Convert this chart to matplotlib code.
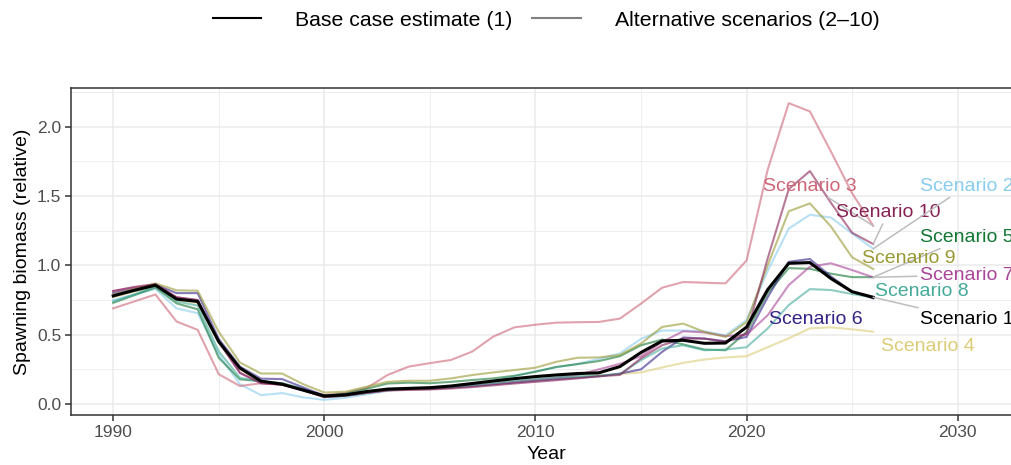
import numpy as np
import matplotlib.pyplot as plt
from matplotlib.lines import Line2D
from matplotlib.ticker import MultipleLocator

plt.rcParams['font.family'] = ['Liberation Sans', 'DejaVu Sans']

years = np.arange(1990, 2027)

# relative spawning biomass by scenario, 1990-2026
s1 = [0.78, 0.82, 0.857, 0.757, 0.74, 0.45, 0.26, 0.165, 0.143, 0.10,
      0.058, 0.066, 0.09, 0.108, 0.113, 0.118, 0.13, 0.148, 0.166, 0.183,
      0.198, 0.21, 0.22, 0.225, 0.27, 0.372, 0.455, 0.46, 0.438, 0.44,
      0.555, 0.825, 1.015, 1.02, 0.905, 0.81, 0.77]
s2 = [0.75, 0.79, 0.83, 0.69, 0.655, 0.357, 0.143, 0.064, 0.079, 0.048,
      0.03, 0.045, 0.07, 0.095, 0.11, 0.12, 0.13, 0.15, 0.17, 0.2,
      0.235, 0.265, 0.29, 0.325, 0.365, 0.47, 0.53, 0.53, 0.525, 0.495,
      0.605, 0.96, 1.265, 1.365, 1.345, 1.23, 1.12]
s3 = [0.69, 0.74, 0.79, 0.595, 0.535, 0.215, 0.13, 0.15, 0.14, 0.105,
      0.065, 0.08, 0.115, 0.21, 0.27, 0.295, 0.318, 0.378, 0.486, 0.553,
      0.572, 0.587, 0.59, 0.592, 0.616, 0.724, 0.839, 0.88, 0.875, 0.87,
      1.035, 1.69, 2.17, 2.11, 1.82, 1.52, 1.285]
s4 = [0.77, 0.81, 0.85, 0.75, 0.73, 0.44, 0.25, 0.16, 0.14, 0.10,
      0.055, 0.062, 0.085, 0.10, 0.108, 0.112, 0.12, 0.135, 0.148, 0.16,
      0.172, 0.185, 0.195, 0.205, 0.216, 0.228, 0.264, 0.297, 0.321, 0.336,
      0.345, 0.41, 0.474, 0.546, 0.553, 0.539, 0.522]
s5 = [0.73, 0.785, 0.84, 0.726, 0.683, 0.333, 0.178, 0.165, 0.15, 0.11,
      0.06, 0.075, 0.11, 0.148, 0.154, 0.15, 0.16, 0.173, 0.185, 0.204,
      0.233, 0.268, 0.288, 0.31, 0.345, 0.424, 0.465, 0.43, 0.393, 0.388,
      0.52, 0.80, 0.98, 0.975, 0.94, 0.915, 0.915]
s6 = [0.80, 0.83, 0.86, 0.80, 0.80, 0.47, 0.27, 0.183, 0.18, 0.12,
      0.06, 0.07, 0.09, 0.105, 0.11, 0.112, 0.12, 0.13, 0.142, 0.155,
      0.168, 0.18, 0.19, 0.20, 0.22, 0.25, 0.376, 0.48, 0.472, 0.453,
      0.484, 0.77, 1.026, 1.046, 0.92, 0.81, 0.762]
s7 = [0.815, 0.84, 0.86, 0.77, 0.75, 0.45, 0.225, 0.15, 0.14, 0.10,
      0.05, 0.06, 0.08, 0.10, 0.105, 0.108, 0.118, 0.13, 0.145, 0.16,
      0.175, 0.19, 0.21, 0.25, 0.29, 0.345, 0.448, 0.525, 0.516, 0.49,
      0.50, 0.64, 0.858, 0.99, 1.015, 0.966, 0.914]
s8 = [0.74, 0.79, 0.85, 0.74, 0.71, 0.38, 0.19, 0.16, 0.15, 0.10,
      0.05, 0.06, 0.08, 0.10, 0.108, 0.112, 0.12, 0.135, 0.15, 0.165,
      0.18, 0.192, 0.20, 0.205, 0.216, 0.317, 0.40, 0.424, 0.388, 0.393,
      0.41, 0.545, 0.714, 0.829, 0.822, 0.793, 0.77]
s9 = [0.79, 0.83, 0.87, 0.82, 0.817, 0.52, 0.30, 0.22, 0.22, 0.143,
      0.083, 0.089, 0.125, 0.16, 0.168, 0.168, 0.185, 0.209, 0.228, 0.245,
      0.262, 0.305, 0.334, 0.336, 0.353, 0.436, 0.556, 0.58, 0.52, 0.484,
      0.59, 1.0, 1.39, 1.447, 1.28, 1.058, 0.974]
s10 = [0.815, 0.845, 0.865, 0.77, 0.75, 0.45, 0.225, 0.15, 0.14, 0.10,
       0.05, 0.06, 0.08, 0.098, 0.102, 0.105, 0.112, 0.122, 0.135, 0.148,
       0.16, 0.172, 0.185, 0.20, 0.21, 0.33, 0.424, 0.472, 0.472, 0.448,
       0.508, 1.05, 1.55, 1.68, 1.45, 1.235, 1.154]

alternatives = {2: s2, 3: s3, 4: s4, 5: s5, 6: s6, 7: s7, 8: s8, 9: s9, 10: s10}

# Tol muted palette
colours = {2: '#88CCEE', 3: '#CC6677', 4: '#DDCC77', 5: '#117733',
           6: '#332288', 7: '#AA4499', 8: '#44AA99', 9: '#999933',
           10: '#882255', 1: 'black'}

# label placement (x, y, horizontal alignment, draw connector)
label_pos = {3: (2023.0, 1.572, 'center', True),
             10: (2026.7, 1.38, 'center', True),
             2: (2028.2, 1.572, 'left', True),
             5: (2028.2, 1.202, 'left', True),
             9: (2027.7, 1.05, 'center', False),
             7: (2028.2, 0.93, 'left', True),
             8: (2028.3, 0.81, 'center', False),
             1: (2028.2, 0.613, 'left', True),
             6: (2023.3, 0.613, 'center', False),
             4: (2028.6, 0.413, 'center', False)}

fig = plt.figure(figsize=(10.11, 4.65), dpi=100)
ax = fig.add_axes([71 / 1011, 1 - 415 / 465, 950 / 1011, 327 / 465])

for k, vals in alternatives.items():
    ax.plot(years, vals, color=colours[k], lw=1.5, alpha=0.6, zorder=3)
ax.plot(years, s1, color='black', lw=2.2, zorder=4)

series = dict(alternatives)
series[1] = s1
for k, (lx, ly, ha, seg) in label_pos.items():
    arrow = None
    if seg:
        arrow = dict(arrowstyle='-', color='#BDBDBD', lw=1.1,
                     shrinkA=0, shrinkB=0)
    ax.annotate(f'Scenario {k}', xy=(years[-1], series[k][-1]),
                xytext=(lx, ly), ha=ha, va='center', fontsize=14,
                color=colours[k], arrowprops=arrow, zorder=5,
                annotation_clip=False)

ax.set_xlim(1988.0, 2033.0)
ax.set_ylim(-0.079, 2.279)
ax.xaxis.set_major_locator(MultipleLocator(10))
ax.xaxis.set_minor_locator(MultipleLocator(5))
ax.yaxis.set_major_locator(MultipleLocator(0.5))
ax.yaxis.set_minor_locator(MultipleLocator(0.25))
ax.yaxis.set_major_formatter(lambda v, p: f'{v:.1f}')
ax.grid(which='major', color='#EBEBEB', lw=1.1, zorder=0)
ax.grid(which='minor', color='#EBEBEB', lw=0.6, zorder=0)
ax.set_axisbelow(True)
for side in ['left', 'bottom', 'top', 'right']:
    ax.spines[side].set_color('#333333')
    ax.spines[side].set_linewidth(1.1)
ax.tick_params(which='major', length=4, width=1.1, color='#333333',
               labelcolor='#4D4D4D', labelsize=12.5, pad=3)
ax.tick_params(which='minor', length=0)

ax.set_ylabel('Spawning biomass (relative)', fontsize=14, labelpad=4)
fig.text(546 / 1011, 2 / 465, 'Year', ha='center', va='bottom', fontsize=14)

handles = [Line2D([], [], color='black', lw=1.5),
           Line2D([], [], color='#808080', lw=1.5)]
fig.legend(handles, ['Base case estimate (1)', 'Alternative scenarios (2\u201310)'],
           loc='center', bbox_to_anchor=(546 / 1011, 1 - 20 / 465), ncol=2,
           frameon=False, fontsize=15.3, handlelength=2.3, handletextpad=1.6,
           columnspacing=0.9)

fig.savefig('out.png', dpi=100)
